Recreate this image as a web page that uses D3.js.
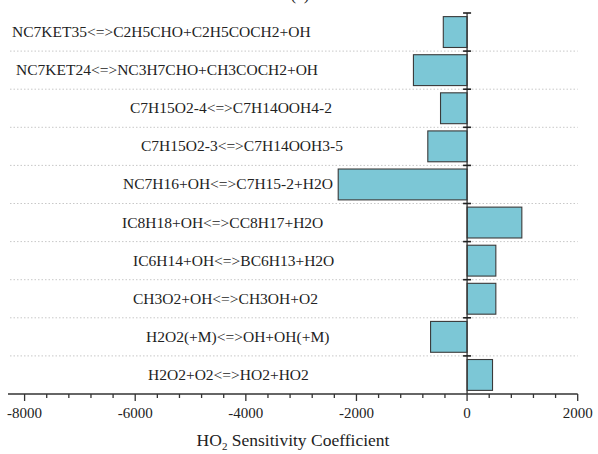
<!DOCTYPE html>
<html>
<head>
<meta charset="utf-8">
<script src="https://cdn.jsdelivr.net/npm/d3@7"></script>
<style>
  html, body { margin: 0; padding: 0; background: #fff; }
  svg { display: block; }
  text { font-family: "Liberation Serif", "Times New Roman", serif; fill: #222; }
</style>
</head>
<body>
<svg id="chart" width="598" height="454"></svg>
<script>
// Reactions, top to bottom
const reactions = [
  "NC7KET35<=>C2H5CHO+C2H5COCH2+OH",
  "NC7KET24<=>NC3H7CHO+CH3COCH2+OH",
  "C7H15O2-4<=>C7H14OOH4-2",
  "C7H15O2-3<=>C7H14OOH3-5",
  "NC7H16+OH<=>C7H15-2+H2O",
  "IC8H18+OH<=>CC8H17+H2O",
  "IC6H14+OH<=>BC6H13+H2O",
  "CH3O2+OH<=>CH3OH+O2",
  "H2O2(+M)<=>OH+OH(+M)",
  "H2O2+O2<=>HO2+HO2"
];
// HO2 sensitivity coefficients
const sensitivity = [-430, -970, -480, -710, -2330, 990, 520, 520, -660, 460];
// Axis tick values
const majorTicks = [-8000, -6000, -4000, -2000, 0, 2000];
const minorTicks = d3.range(-8000, 2001, 400);

// Left edge of each reaction label
const labelStart = [12, 16, 130, 141, 123, 122, 133, 133, 146, 148];

const svg = d3.select("#chart");
const x = d3.scaleLinear().domain([-8300, 2000]).range([8, 577.7]);
const y = d3.scaleBand().domain(reactions).range([13, 394])
  .paddingInner(0.19).paddingOuter(0.095);
const step = y.step();
const top0 = 13, bottom0 = 394;
const boundaries = d3.range(0, reactions.length).map(i => top0 + i * step);

// dotted gridlines between categories
svg.append("g").selectAll("line").data(boundaries.slice(1)).join("line")
  .attr("x1", 10).attr("x2", 577.7)
  .attr("y1", d => d).attr("y2", d => d)
  .attr("stroke", "#c8c8c8").attr("stroke-width", 1)
  .attr("stroke-dasharray", "1.5,2");

// bars
svg.append("g").selectAll("rect").data(reactions).join("rect")
  .attr("x", (d, i) => Math.min(x(0), x(sensitivity[i])))
  .attr("width", (d, i) => Math.abs(x(sensitivity[i]) - x(0)))
  .attr("y", d => y(d))
  .attr("height", y.bandwidth())
  .attr("fill", "#7cc7d6")
  .attr("stroke", "#3a3a3a").attr("stroke-width", 1.1);

// zero line with category ticks
const zx = x(0);
svg.append("line").attr("x1", zx).attr("x2", zx)
  .attr("y1", top0).attr("y2", bottom0)
  .attr("stroke", "#333").attr("stroke-width", 1.3);
svg.append("g").selectAll("line").data(boundaries).join("line")
  .attr("x1", zx - 4).attr("x2", zx + 4)
  .attr("y1", d => d).attr("y2", d => d)
  .attr("stroke", "#222").attr("stroke-width", 1.6);

// x axis
const axisY = bottom0;
svg.append("line").attr("x1", 8).attr("x2", 577.7)
  .attr("y1", axisY).attr("y2", axisY)
  .attr("stroke", "#333").attr("stroke-width", 1.3);
svg.append("g").selectAll("line").data(minorTicks).join("line")
  .attr("x1", d => x(d)).attr("x2", d => x(d))
  .attr("y1", axisY)
  .attr("y2", d => majorTicks.includes(d) ? axisY + 7 : axisY + 4)
  .attr("stroke", "#333").attr("stroke-width", 1.3);
svg.append("g").selectAll("text").data(majorTicks).join("text")
  .attr("x", d => x(d)).attr("y", 418)
  .attr("text-anchor", "middle")
  .attr("font-size", 15)
  .text(d => d);

// reaction labels
svg.append("g").selectAll("text").data(reactions).join("text")
  .attr("x", (d, i) => labelStart[i])
  .attr("y", d => y(d) + y.bandwidth() / 2 + 5)
  .attr("font-size", 15.5)
  .text(d => d);

// axis title
const title = svg.append("text")
  .attr("x", 293).attr("y", 446)
  .attr("text-anchor", "middle")
  .attr("font-size", 17.5);
title.append("tspan").text("HO");
title.append("tspan").attr("font-size", 11).attr("dy", 4).text("2");
title.append("tspan").attr("dy", -4).text(" Sensitivity Coefficient");

// panel tag, running off the top edge
svg.append("text").attr("x", 300).attr("y", 0)
  .attr("text-anchor", "middle").attr("font-size", 17).text("(a)");
</script>
</body>
</html>
